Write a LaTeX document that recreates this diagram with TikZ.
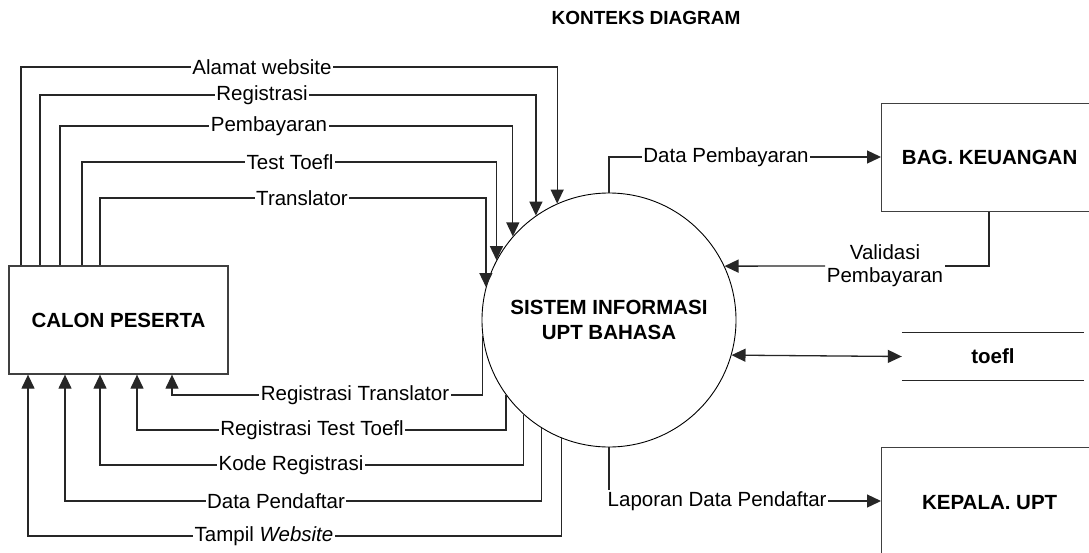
\documentclass[tikz,border=0pt]{standalone}
\usepackage{fontspec}
\setmainfont{Liberation Sans}
\usetikzlibrary{arrows.meta,calc}
\begin{document}
\begin{tikzpicture}[x=1pt,y=-1pt,
  conn/.style={draw=black!85, line width=1.3pt},
  arr/.style={conn, -{Triangle[length=14pt,width=13pt]}},
  darr/.style={conn, {Triangle[length=14pt,width=13pt]}-{Triangle[length=14pt,width=13pt]}},
  lbl/.style={fill=white, inner sep=1.5pt, font=\fontsize{20.5}{23}\selectfont},
  ent/.style={draw=black!75, line width=1.3pt, font=\bfseries\fontsize{20.5}{23}\selectfont, inner sep=0pt},
]
\clip (0,0) rectangle (1089,552);
\fill[white] (0,0) rectangle (1089,552);

% title
\node[font=\bfseries\fontsize{19}{22}\selectfont] (title) at (646,18) {KONTEKS DIAGRAM};

% entities
\node[ent, minimum width=219pt, minimum height=108pt] (calon) at (118.5,320) {CALON PESERTA};
\node[ent, minimum width=216pt, minimum height=108pt, anchor=north west] (keu) at (881,103) {BAG. KEUANGAN};
\node[ent, minimum width=216pt, minimum height=110pt, anchor=north west] (kep) at (881,447) {KEPALA. UPT};
\node[circle, draw=black, line width=0.9pt, minimum size=254pt, inner sep=0pt, align=center,
      font=\bfseries\fontsize{20.5}{25}\selectfont] (sys) at (609,320) {SISTEM INFORMASI\\UPT BAHASA};

% data store
\node[minimum width=182pt, minimum height=47pt, inner sep=0pt, font=\bfseries\fontsize{20.5}{23}\selectfont] (store) at (993,356.5) {toefl};
\draw[conn] (store.north west) -- (store.north east) (store.south west) -- (store.south east);

% flows from CALON PESERTA to system
\draw[arr] (calon.north -| 21,0) |- (sys.114.7 |- 0,67) -- (sys.114.7);
\draw[arr] (calon.north -| 40,0) |- (sys.125.6 |- 0,95) -- (sys.125.6);
\draw[arr] (calon.north -| 60,0) |- (sys.139.8 |- 0,126) -- (sys.139.8);
\draw[arr] (calon.north -| 82,0) |- (sys.152.9 |- 0,162) -- (sys.152.9);
\draw[arr] (calon.north -| 100,0) |- (sys.165.6 |- 0,198) -- (sys.165.6);
\node[lbl] (la) at (262,67) {Alamat website};
\node[lbl] (lb) at (262,95) {Registrasi};
\node[lbl] (lc) at (269,126) {Pembayaran};
\node[lbl] (ld) at (290,162) {Test Toefl};
\node[lbl] (le) at (302,198) {Translator};

% flows from system to CALON PESERTA
\draw[arr] (sys.187.2) -- (sys.187.2 |- 0,395) -| (calon.south -| 172,0);
\draw[arr] (sys.216.6) -- (sys.216.6 |- 0,430) -| (calon.south -| 137,0);
\draw[arr] (sys.228.0) -- (sys.228.0 |- 0,465) -| (calon.south -| 100,0);
\draw[arr] (sys.238.1) -- (sys.238.1 |- 0,501) -| (calon.south -| 65,0);
\draw[arr] (sys.248.8) -- (sys.248.8 |- 0,536) -| (calon.south -| 28,0);
\node[lbl] (lf) at (355,395) {Registrasi Translator};
\node[lbl] (lg) at (312,430) {Registrasi Test Toefl};
\node[lbl] (lh) at (291,465) {Kode Registrasi};
\node[lbl] (li) at (276,501) {Data Pendaftar};
\node[lbl] (lj) at (264,536) {Tampil \textit{Website}};

% BAG. KEUANGAN flows
\node[lbl] (dp) at (726,157) {Data Pembayaran};
\draw[conn] (sys.north) |- (dp.west);
\draw[arr] (dp.east) -- (keu.west |- dp.east);
\node[lbl, align=center] (val) at (885,266) {Validasi\\Pembayaran};
\draw[conn] (keu.south -| 989,0) |- (val.east);
\draw[arr] (val.west) -- (sys.25.2);

% data store flow
\draw[darr] (sys.-16.9) -- (store.west);

% KEPALA. UPT flow
\node[lbl, anchor=west] (lap) at (606,501) {Laporan Data Pendaftar};
\draw[conn] (sys.south) -- (sys.south |- lap.north);
\draw[arr] (lap.east) -- (kep.west |- lap.east);
\end{tikzpicture}
\end{document}
